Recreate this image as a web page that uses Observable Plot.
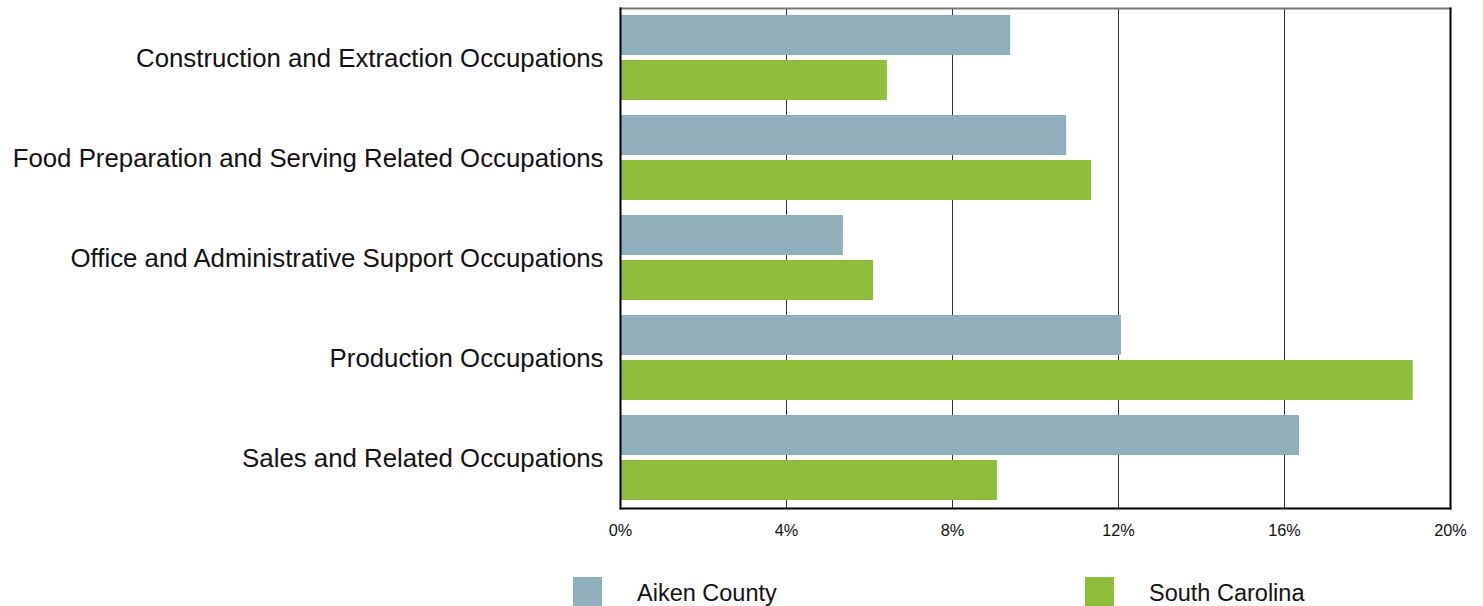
<!DOCTYPE html>
<html>
<head>
<meta charset="utf-8">
<script src="https://cdn.jsdelivr.net/npm/d3@7"></script>
<script src="https://cdn.jsdelivr.net/npm/@observablehq/plot@0.6"></script>
<style>
  body { margin: 0; background: #fff; font-family: "Liberation Sans", Arial, sans-serif; }
  #wrap { position: relative; width: 1483px; height: 606px; }
  .leg { position: absolute; display: flex; align-items: center; font-size: 23.5px; color: #111; }
  .sw { width: 29px; height: 29px; margin-right: 35px; }
</style>
</head>
<body>
<div id="wrap"><div id="chart"></div></div>
<script>
const categories = [
  "Construction and Extraction Occupations",
  "Food Preparation and Serving Related Occupations",
  "Office and Administrative Support Occupations",
  "Production Occupations",
  "Sales and Related Occupations"
];
const series = ["Aiken County", "South Carolina"];
const aikenValues = [9.4, 10.75, 5.37, 12.07, 16.36];
const scValues = [6.43, 11.35, 6.1, 19.1, 9.08];
const xTicks = [0, 4, 8, 12, 16, 20];
const colors = ["#8fafba", "#8ebe3c"];

const aiken = categories.map((c, i) => ({category: c, value: aikenValues[i]}));
const sc = categories.map((c, i) => ({category: c, value: scValues[i]}));

const chart = Plot.plot({
  width: 1483,
  height: 550,
  marginLeft: 620,
  marginRight: 33,
  marginTop: 8,
  marginBottom: 42,
  style: {fontFamily: "'Liberation Sans', Arial, sans-serif", color: "#111", background: "#fff"},
  x: {domain: [0, 20], ticks: xTicks, tickFormat: d => d + "%", label: null},
  y: {domain: categories, padding: 0, label: null},
  marks: [
    Plot.gridX(xTicks, {stroke: "#333", strokeOpacity: 1, strokeWidth: 1}),
    Plot.barX(aiken, {y: "category", x: "value", fill: colors[0], insetTop: 7, insetBottom: 53}),
    Plot.barX(sc, {y: "category", x: "value", fill: colors[1], insetTop: 52, insetBottom: 8}),
    Plot.frame({anchor: "top", stroke: "#777", strokeWidth: 2}),
    Plot.frame({anchor: "bottom", stroke: "#000", strokeWidth: 2}),
    Plot.frame({anchor: "left", stroke: "#000", strokeWidth: 2}),
    Plot.frame({anchor: "right", stroke: "#000", strokeWidth: 2}),
    Plot.axisX(xTicks, {tickSize: 0, tickPadding: 16, fontSize: 16.3, label: null, tickFormat: d => d + "%"}),
    Plot.axisY({tickSize: 0, tickPadding: 17, fontSize: 25.8, label: null})
  ]
});
document.getElementById("chart").appendChild(chart);

const wrap = document.getElementById("wrap");
const legPos = [[573, 577], [1085, 577]];
series.forEach((s, i) => {
  const d = document.createElement("div");
  d.className = "leg";
  d.style.left = legPos[i][0] + "px";
  d.style.top = legPos[i][1] + "px";
  d.innerHTML = `<div class="sw" style="background:${colors[i]}"></div><span style="position:relative;top:2px">${s}</span>`;
  wrap.appendChild(d);
});
</script>
</body>
</html>
